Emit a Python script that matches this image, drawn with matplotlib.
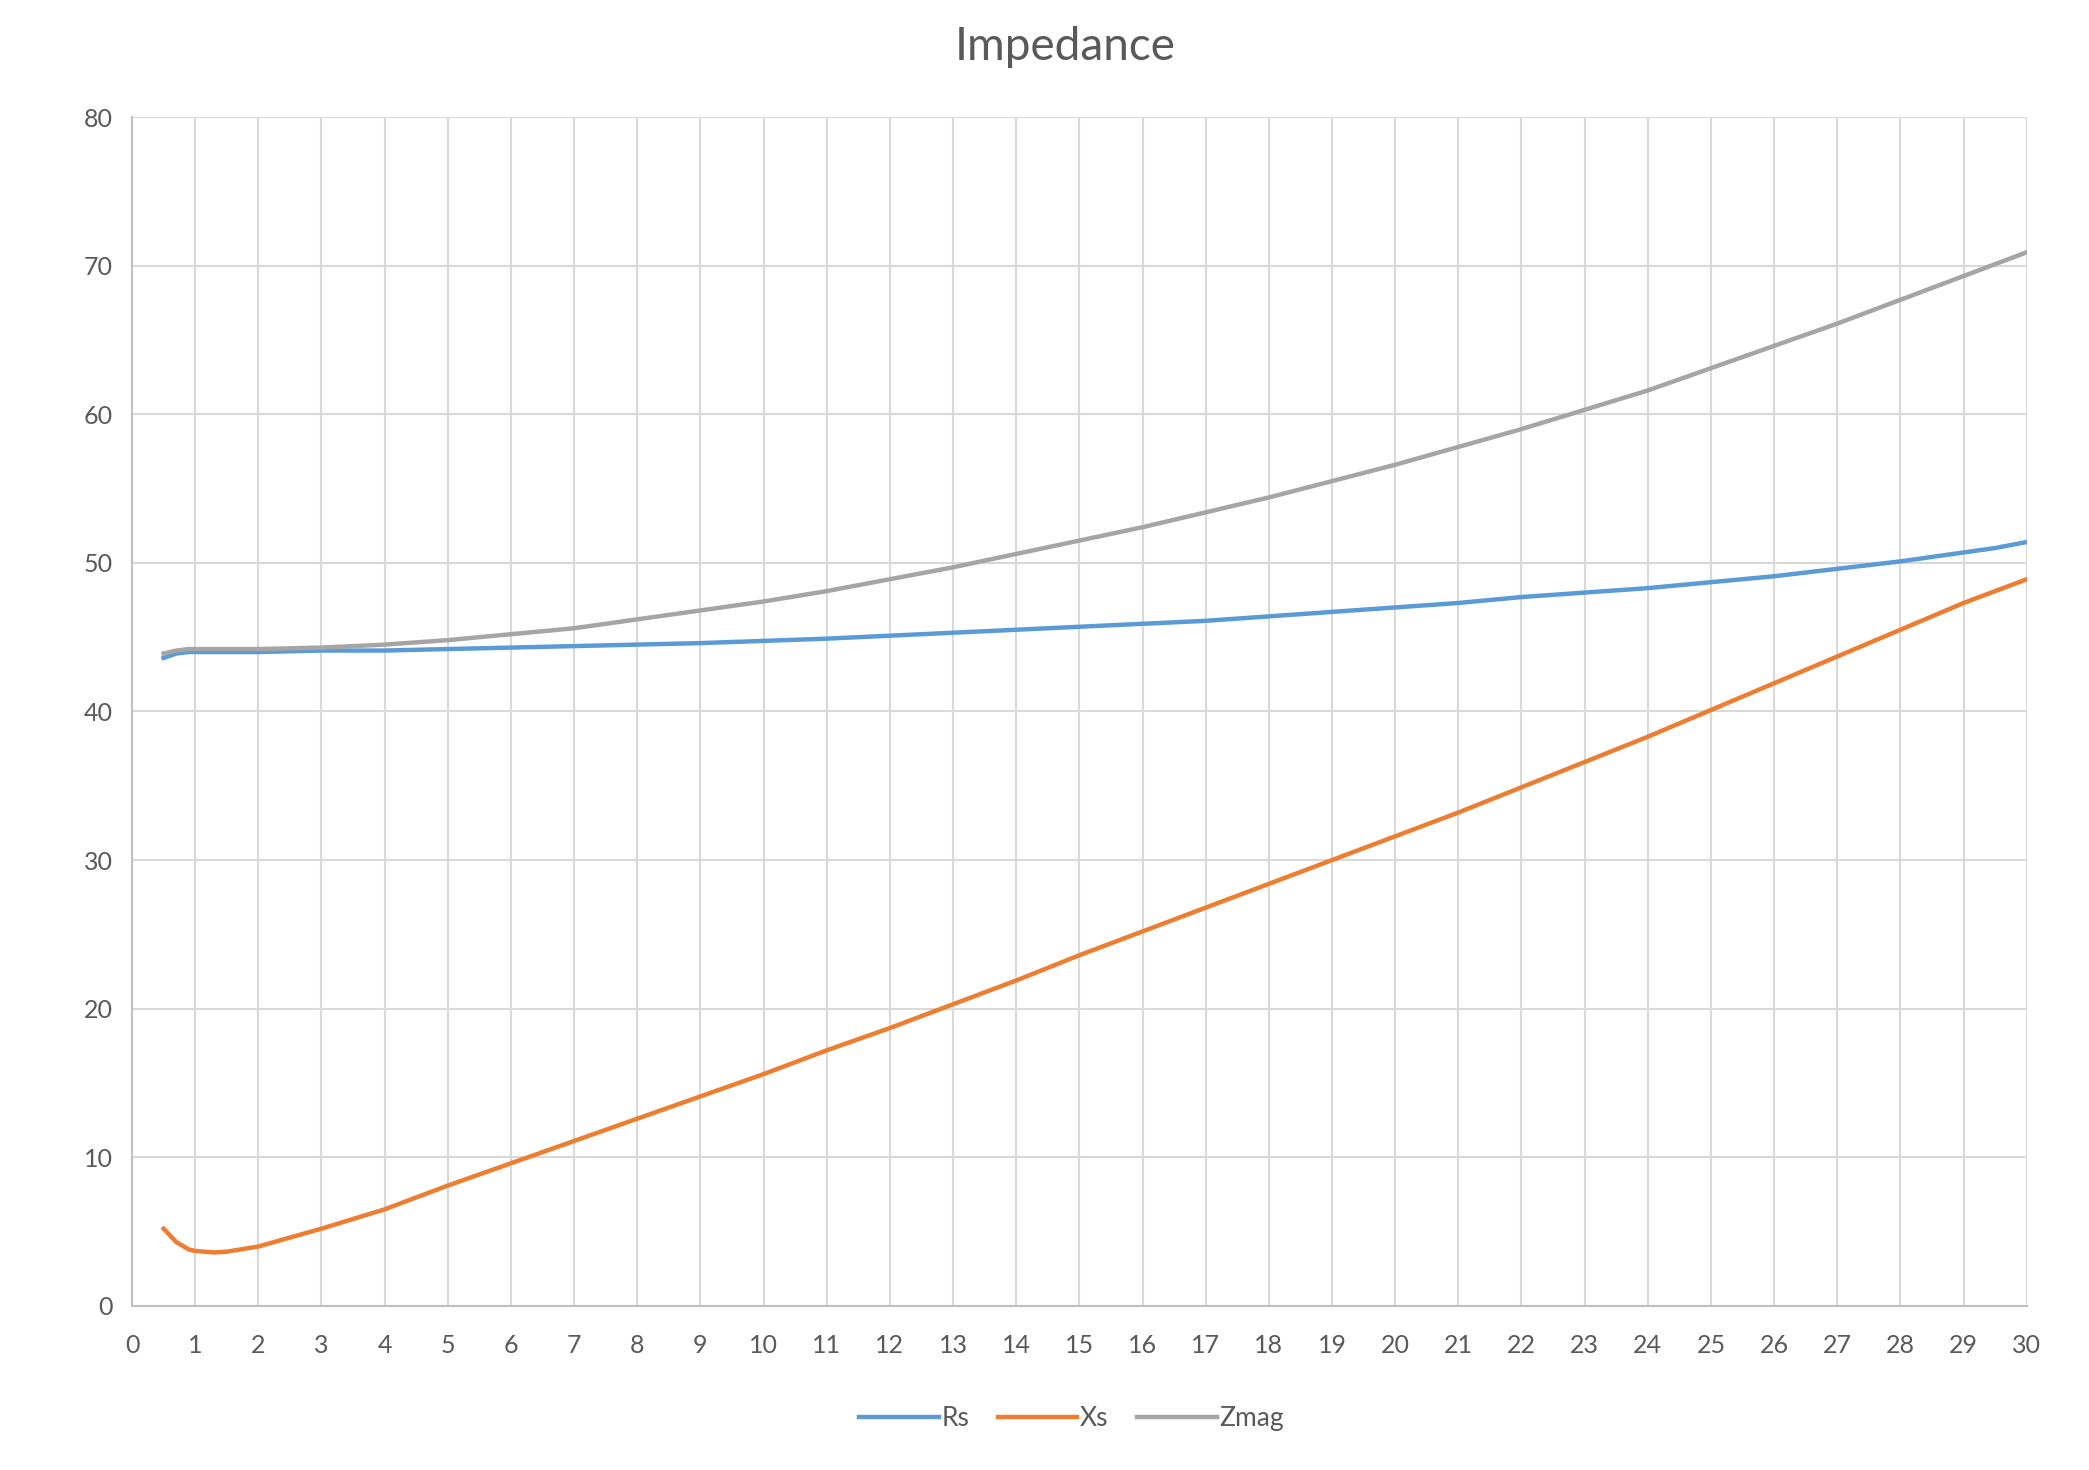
import matplotlib.pyplot as plt
import numpy as np

### values
freq = [0.5, 0.7, 0.9, 1.0, 1.3, 1.5, 2.0, 2.5, 3, 4, 5, 6, 7, 8, 9, 10, 11, 12, 13, 14, 15,
        16, 17, 18, 19, 20, 21, 22, 23, 24, 25, 26, 27, 28, 29, 29.5, 30]
rs = [43.6, 43.9, 44.0, 44.0, 44.0, 44.0, 44.0, 44.05, 44.1, 44.1, 44.2, 44.3, 44.4, 44.5, 44.6, 44.75,
      44.9, 45.1, 45.3, 45.5, 45.7, 45.9, 46.1, 46.4, 46.7, 47.0, 47.3, 47.7, 48.0, 48.3, 48.7,
      49.1, 49.6, 50.1, 50.7, 51.0, 51.4]
xs = [5.2, 4.3, 3.8, 3.7, 3.6, 3.65, 4.0, 4.6, 5.2, 6.5, 8.1, 9.6, 11.1, 12.6, 14.1, 15.6, 17.2,
      18.7, 20.3, 21.9, 23.6, 25.2, 26.8, 28.4, 30.0, 31.6, 33.2, 34.9, 36.6, 38.3, 40.1, 41.9,
      43.7, 45.5, 47.3, 48.1, 48.9]
zmag = [43.9, 44.1, 44.2, 44.2, 44.2, 44.2, 44.2, 44.25, 44.3, 44.5, 44.8, 45.2, 45.6, 46.2, 46.8,
        47.4, 48.1, 48.9, 49.7, 50.6, 51.5, 52.4, 53.4, 54.4, 55.5, 56.6, 57.8, 59.0, 60.3, 61.6,
        63.1, 64.6, 66.1, 67.7, 69.3, 70.1, 70.9]

plt.rcParams['font.family'] = ['Lato', 'DejaVu Sans']
text_col = '#595959'

fig = plt.figure(figsize=(20.89, 14.70), dpi=100)
ax = fig.add_axes([0.0632, 0.1116, 0.907, 0.8088])

ax.plot(freq, rs, color='#5B9BD5', lw=3.2, label='Rs')
ax.plot(freq, xs, color='#ED7D31', lw=3.2, label='Xs')
ax.plot(freq, zmag, color='#A5A5A5', lw=3.2, label='Zmag')

ax.set_xlim(0, 30)
ax.set_ylim(0, 80)
ax.set_xticks(np.arange(0, 31, 1))
ax.set_yticks(np.arange(0, 81, 10))
ax.grid(True, color='#D9D9D9', lw=1.5)
ax.set_axisbelow(True)
ax.tick_params(length=0, labelsize=18, colors=text_col)
ax.tick_params(axis='x', pad=20)
ax.tick_params(axis='y', pad=14)
for s in ['top', 'right']:
    ax.spines[s].set_visible(False)
for s in ['left', 'bottom']:
    ax.spines[s].set_color('#BFBFBF')
    ax.spines[s].set_linewidth(1.5)

fig.text(0.51, 0.968, 'Impedance', ha='center', va='center', fontsize=33, color=text_col)
leg = fig.legend(loc='center', bbox_to_anchor=(0.513, 0.035), ncol=3, frameon=False,
                 fontsize=19, handlelength=3.0, handletextpad=0.1, columnspacing=1.1)
for t in leg.get_texts():
    t.set_color(text_col)

fig.savefig('out.png', dpi=100, facecolor='white')
